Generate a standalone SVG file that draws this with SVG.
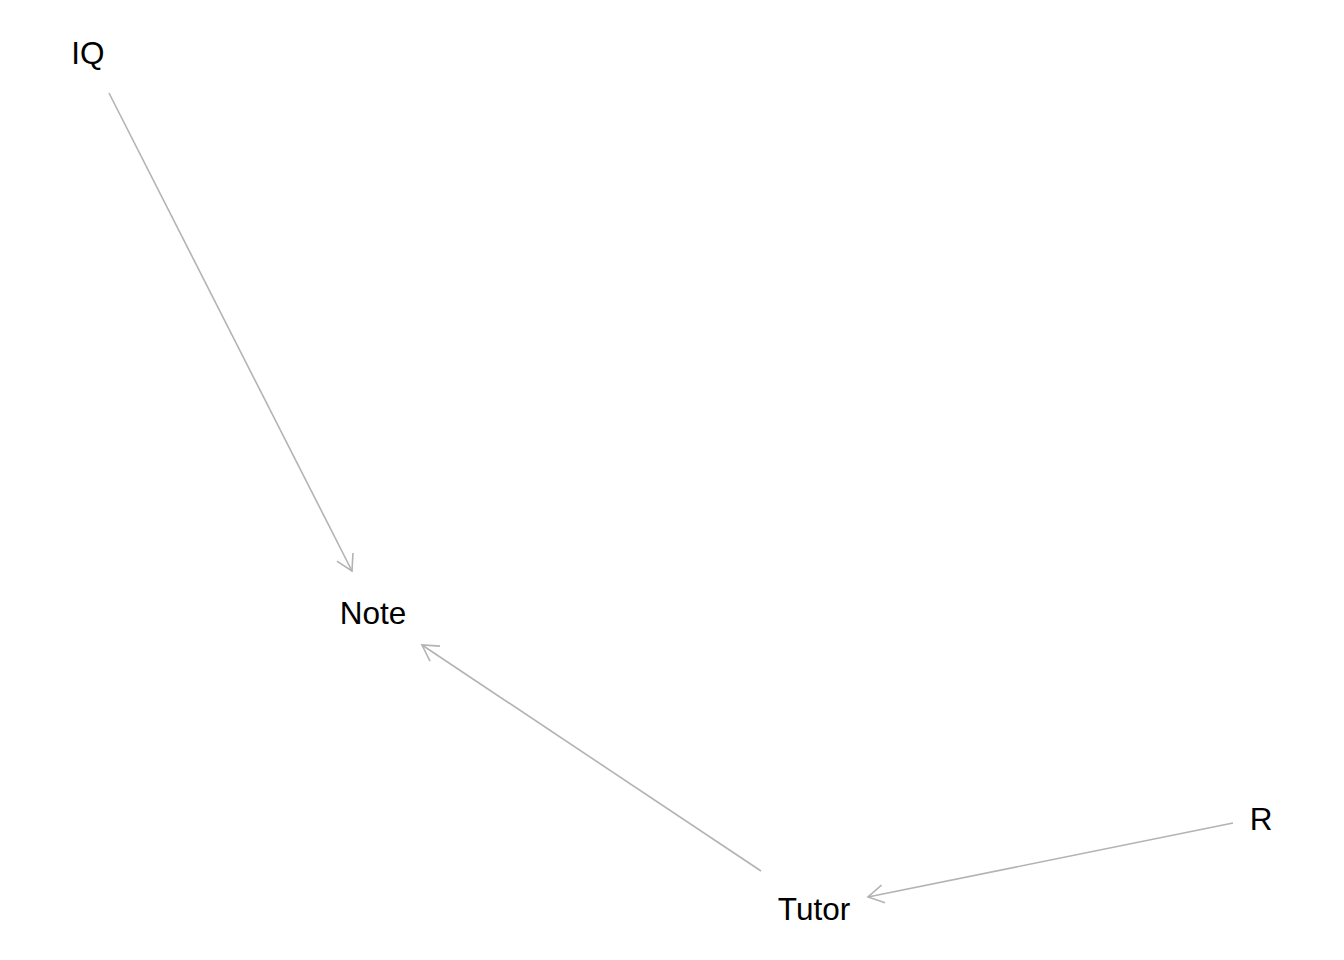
<svg xmlns="http://www.w3.org/2000/svg" width="1344" height="960" viewBox="0 0 1344 960">
<style>
.lbl{font-family:"Liberation Sans",Arial,sans-serif;font-size:31.5px;fill:#000;text-anchor:middle}
.edge{stroke:#b3b3b3;stroke-width:1.6;fill:none}
</style>
<defs>
<marker id="arr" markerUnits="userSpaceOnUse" markerWidth="24" markerHeight="24" refX="18" refY="10" orient="auto" viewBox="0 0 24 20">
<path d="M2.4,1 L18,10 L2.4,19" fill="none" stroke="#b3b3b3" stroke-width="1.6"/>
</marker>
</defs>
<rect width="1344" height="960" fill="#fff"/>
<g id="connectors">
<line class="edge" x1="109" y1="93" x2="352" y2="571" marker-end="url(#arr)"/>
<line class="edge" x1="761" y1="871" x2="422" y2="645" marker-end="url(#arr)"/>
<line class="edge" x1="1233" y1="823" x2="868" y2="897" marker-end="url(#arr)"/>
</g>
<g id="node-IQ"><text class="lbl" x="88" y="64">IQ</text></g>
<g id="node-Note"><text class="lbl" x="373" y="624">Note</text></g>
<g id="node-Tutor"><text class="lbl" x="814" y="920">Tutor</text></g>
<g id="node-R"><text class="lbl" x="1261" y="830">R</text></g>
</svg>
